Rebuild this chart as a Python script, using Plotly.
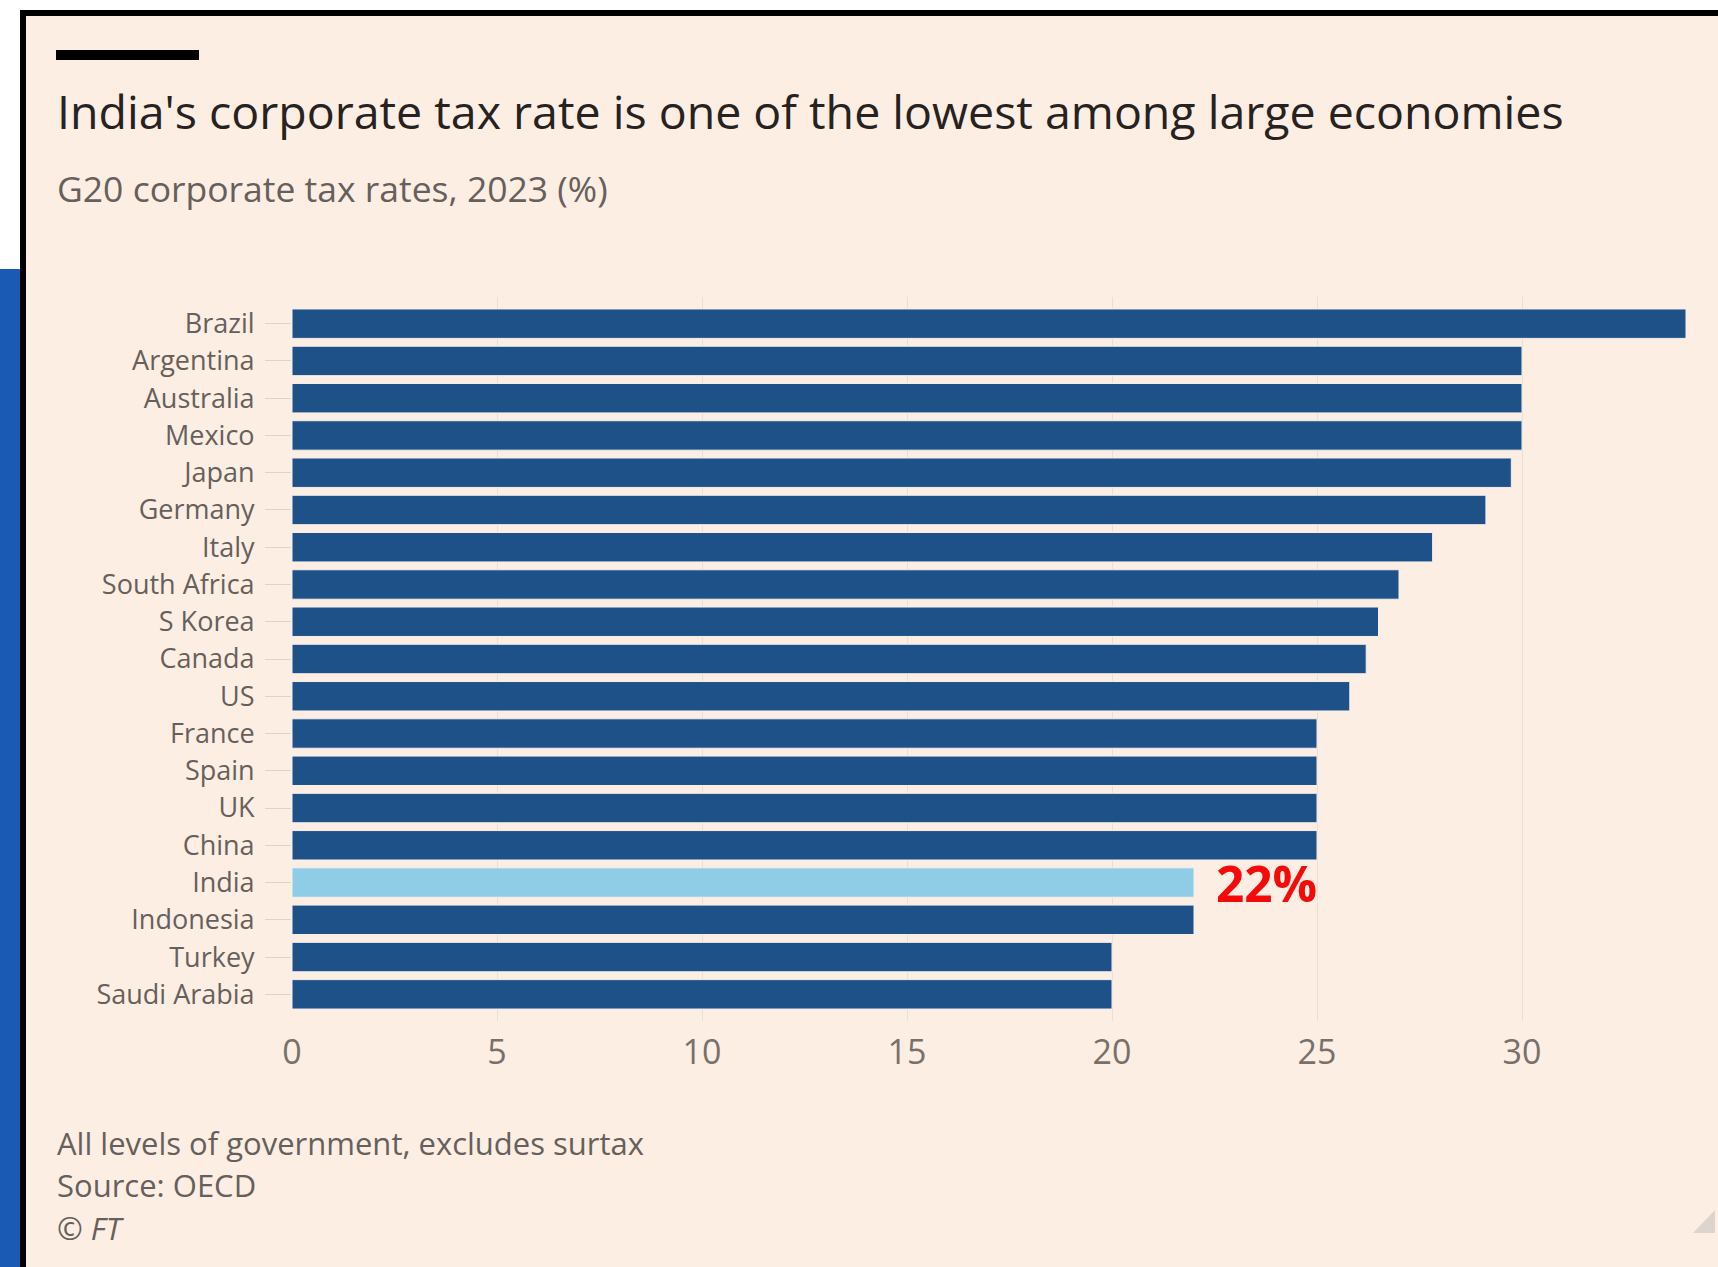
import plotly.graph_objects as go

countries = ["Brazil", "Argentina", "Australia", "Mexico", "Japan", "Germany", "Italy",
             "South Africa", "S Korea", "Canada", "US", "France", "Spain", "UK", "China",
             "India", "Indonesia", "Turkey", "Saudi Arabia"]
rates = [34.0, 30.0, 30.0, 30.0, 29.74, 29.12, 27.82, 27.0, 26.5, 26.2, 25.8,
         25.0, 25.0, 25.0, 25.0, 22.0, 22.0, 20.0, 20.0]
highlight = "India"
x_ticks = [0, 5, 10, 15, 20, 25, 30]

W, H = 1718, 1267
PL, PR = 292, 1686      # plot area pixel bounds
PT, PB = 297, 1021

BG = "#fdeee3"
DARK = "#1f5189"
LIGHT = "#8fcde6"
GREY = "#66605c"
FONT = "Open Sans"

def px(x):
    return (x - PL) / (PR - PL)

def py(y):
    return (PB - y) / (PB - PT)

colors = [LIGHT if c == highlight else DARK for c in countries]

fig = go.Figure(go.Bar(
    x=rates, y=countries, orientation="h",
    marker=dict(color=colors, line=dict(color="#f6efea", width=1)),
    hoverinfo="x+y",
))

n = len(countries)
pad = 0.716
fig.update_yaxes(
    range=[n - 1 + pad, -pad], type="category",
    tickmode="array", tickvals=countries, ticktext=countries,
    ticks="outside", ticklen=26, tickwidth=1, tickcolor="#ddd3cb",
    ticklabelstandoff=5, showgrid=False, showline=False, zeroline=False,
    tickfont=dict(family=FONT, size=27, color=GREY),
)
fig.update_xaxes(
    range=[0, 34], tickvals=x_ticks, ticktext=[str(v) for v in x_ticks],
    showgrid=True, gridcolor="#e8dfd8", gridwidth=1, zeroline=False, showline=False,
    ticks="", ticklabelstandoff=8,
    tickfont=dict(family=FONT, size=34, color="#77706b"),
)

shapes = []
def rect(x0, y0, x1, y1, color):
    shapes.append(dict(type="rect", xref="paper", yref="paper",
                       x0=px(x0), x1=px(x1), y0=py(y1), y1=py(y0),
                       fillcolor=color, line=dict(width=0), layer="below"))

rect(0, 0, W, 10, "#ffffff")
rect(0, 0, 20, 269, "#ffffff")
rect(0, 269, 20, H, "#1a5ab4")
rect(20, 10, W, 16, "#000000")
rect(20, 10, 26, H, "#000000")
rect(56, 50, 199, 60, "#000000")
shapes.append(dict(type="path", xref="paper", yref="paper",
                   path=f"M {px(1715)} {py(1210)} L {px(1715)} {py(1233)} L {px(1693)} {py(1233)} Z",
                   fillcolor="#ddd5cd", line=dict(width=0), layer="below"))

annotations = [
    dict(text="India's corporate tax rate is one of the lowest among large economies",
         x=px(55), y=py(111), xref="paper", yref="paper", xanchor="left", yanchor="middle",
         showarrow=False, font=dict(family=FONT, size=46.5, color="#26221f")),
    dict(text="G20 corporate tax rates, 2023 (%)",
         x=px(55), y=py(188), xref="paper", yref="paper", xanchor="left", yanchor="middle",
         showarrow=False, font=dict(family=FONT, size=35.5, color=GREY)),
    dict(text="All levels of government, excludes surtax",
         x=px(55), y=py(1143), xref="paper", yref="paper", xanchor="left", yanchor="middle",
         showarrow=False, font=dict(family=FONT, size=31, color=GREY)),
    dict(text="Source: OECD",
         x=px(55), y=py(1185), xref="paper", yref="paper", xanchor="left", yanchor="middle",
         showarrow=False, font=dict(family=FONT, size=31, color=GREY)),
    dict(text="<i>© FT</i>",
         x=px(55), y=py(1228), xref="paper", yref="paper", xanchor="left", yanchor="middle",
         showarrow=False, font=dict(family=FONT, size=31, color=GREY)),
    dict(text="<b>22%</b>", x=rates[countries.index(highlight)], y=highlight,
         xref="x", yref="y", xanchor="left", yanchor="middle", xshift=20,
         showarrow=False, font=dict(family=FONT, size=49.5, color="#f50a0a")),
]

fig.update_layout(
    width=W, height=H, autosize=False,
    margin=dict(l=PL, r=W - PR, t=PT, b=H - PB, pad=0),
    paper_bgcolor=BG, plot_bgcolor=BG,
    bargap=0.21, showlegend=False,
    shapes=shapes, annotations=annotations,
)

fig.write_html("out.html", config={"displayModeBar": False},
               post_script="document.body.style.margin='0px';")
